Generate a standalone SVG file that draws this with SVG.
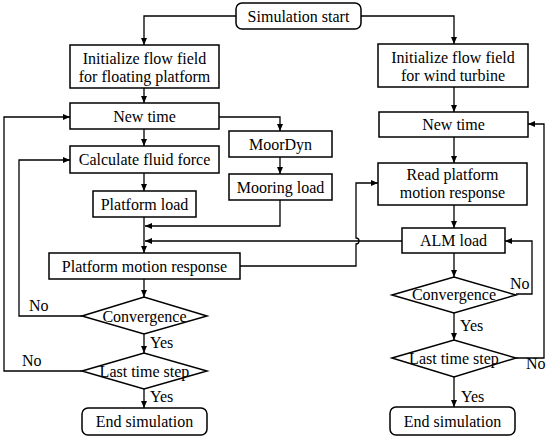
<svg xmlns="http://www.w3.org/2000/svg" width="550" height="439" viewBox="0 0 550 439" font-family="'Liberation Serif', Tinos, 'Times New Roman', 'DejaVu Serif', serif" font-size="16">
<style>
.box{fill:#fff;stroke:#000;stroke-width:1.5}
.ln{fill:none;stroke:#000;stroke-width:1.3}
text{font-family:'Liberation Serif',Tinos,'Times New Roman','DejaVu Serif',serif;font-size:16px;fill:#000}
.c{text-anchor:middle}
</style>
<defs>
<marker id="ar" markerUnits="userSpaceOnUse" markerWidth="7" markerHeight="6" refX="7" refY="3" orient="auto">
<path d="M0,0 L7,3 L0,6 z" fill="#000"/>
</marker>
</defs>
<rect width="550" height="439" fill="#fff"/>
<g id="connectors">
<path class="ln" d="M236,16 H144 V45" marker-end="url(#ar)"/>
<path class="ln" d="M361,16 H454 V44" marker-end="url(#ar)"/>
<path class="ln" d="M144,88 V103" marker-end="url(#ar)"/>
<path class="ln" d="M144,129 V146" marker-end="url(#ar)"/>
<path class="ln" d="M219,117 H280 V131" marker-end="url(#ar)"/>
<path class="ln" d="M280,157 V174" marker-end="url(#ar)"/>
<path class="ln" d="M144,173 V191" marker-end="url(#ar)"/>
<path class="ln" d="M144,217 V253" marker-end="url(#ar)"/>
<path class="ln" d="M280,200 V226 H145" marker-end="url(#ar)"/>
<path class="ln" d="M402,241 H145" marker-end="url(#ar)"/>
<path class="ln" d="M240,266 H356 V244 A3,3 0 0,0 356,238 V183 H378" marker-end="url(#ar)"/>
<path class="ln" d="M144,279 V297" marker-end="url(#ar)"/>
<path class="ln" d="M144,334 V353" marker-end="url(#ar)"/>
<path class="ln" d="M144,389 V408" marker-end="url(#ar)"/>
<path class="ln" d="M82,316 H19 V160 H70" marker-end="url(#ar)"/>
<path class="ln" d="M82,371 H4 V117 H70" marker-end="url(#ar)"/>
<path class="ln" d="M454,87 V112" marker-end="url(#ar)"/>
<path class="ln" d="M454,137 V163" marker-end="url(#ar)"/>
<path class="ln" d="M454,205 V228" marker-end="url(#ar)"/>
<path class="ln" d="M454,253 V277" marker-end="url(#ar)"/>
<path class="ln" d="M454,313 V340" marker-end="url(#ar)"/>
<path class="ln" d="M454,377 V407" marker-end="url(#ar)"/>
<path class="ln" d="M516,294 H532 V241 H505" marker-end="url(#ar)"/>
<path class="ln" d="M516,358 H544 V124 H528" marker-end="url(#ar)"/>
<text x="29" y="311">No</text>
<text x="22" y="366">No</text>
<text x="150" y="348">Yes</text>
<text x="150" y="402">Yes</text>
<text x="510" y="289">No</text>
<text x="526" y="369">No</text>
<text x="460" y="331">Yes</text>
<text x="461" y="402">Yes</text>
</g>
<g id="start"><rect class="box" x="236" y="3" width="125" height="26" rx="6"/><text class="c" x="298.5" y="21.5">Simulation start</text></g>
<g id="init-platform"><rect class="box" x="70" y="45" width="149" height="43"/><text class="c" x="144.5" y="63.5">Initialize flow field</text><text class="c" x="144.5" y="82">for floating platform</text></g>
<g id="init-turbine"><rect class="box" x="378" y="44" width="150" height="43"/><text class="c" x="453" y="62.5">Initialize flow field</text><text class="c" x="453" y="81">for wind turbine</text></g>
<g id="newtime-left"><rect class="box" x="70" y="103" width="149" height="26"/><text class="c" x="144.5" y="121.5">New time</text></g>
<g id="moordyn"><rect class="box" x="229" y="131" width="103" height="26"/><text class="c" x="280.5" y="149.5">MoorDyn</text></g>
<g id="fluid-force"><rect class="box" x="70" y="146" width="149" height="27"/><text class="c" x="144.5" y="165">Calculate fluid force</text></g>
<g id="mooring-load"><rect class="box" x="229" y="174" width="103" height="26"/><text class="c" x="280.5" y="192.5">Mooring load</text></g>
<g id="platform-load"><rect class="box" x="93" y="191" width="103" height="26"/><text class="c" x="144.5" y="209.5">Platform load</text></g>
<g id="platform-motion"><rect class="box" x="49" y="253" width="191" height="26"/><text class="c" x="144.5" y="271.5">Platform motion response</text></g>
<g id="conv-left"><polygon class="box" points="82,316 144,297 207,316 144,334"/><text class="c" x="144.5" y="321.5">Convergence</text></g>
<g id="last-left"><polygon class="box" points="82,371 144,353 207,371 144,389"/><text class="c" x="144.5" y="376.5">Last time step</text></g>
<g id="end-left"><rect class="box" x="82" y="408" width="125" height="27" rx="6"/><text class="c" x="144.5" y="427">End simulation</text></g>
<g id="newtime-right"><rect class="box" x="379" y="112" width="149" height="25"/><text class="c" x="453.5" y="130">New time</text></g>
<g id="read-motion"><rect class="box" x="378" y="163" width="149" height="42"/><text class="c" x="452.5" y="180">Read platform</text><text class="c" x="452.5" y="198">motion response</text></g>
<g id="alm-load"><rect class="box" x="402" y="228" width="103" height="25"/><text class="c" x="453.5" y="246">ALM load</text></g>
<g id="conv-right"><polygon class="box" points="392,295 454,277 516,295 454,313"/><text class="c" x="454" y="300">Convergence</text></g>
<g id="last-right"><polygon class="box" points="392,358 454,340 516,358 454,377"/><text class="c" x="454" y="363.5">Last time step</text></g>
<g id="end-right"><rect class="box" x="390" y="407" width="125" height="28" rx="6"/><text class="c" x="452.5" y="427">End simulation</text></g>
</svg>
